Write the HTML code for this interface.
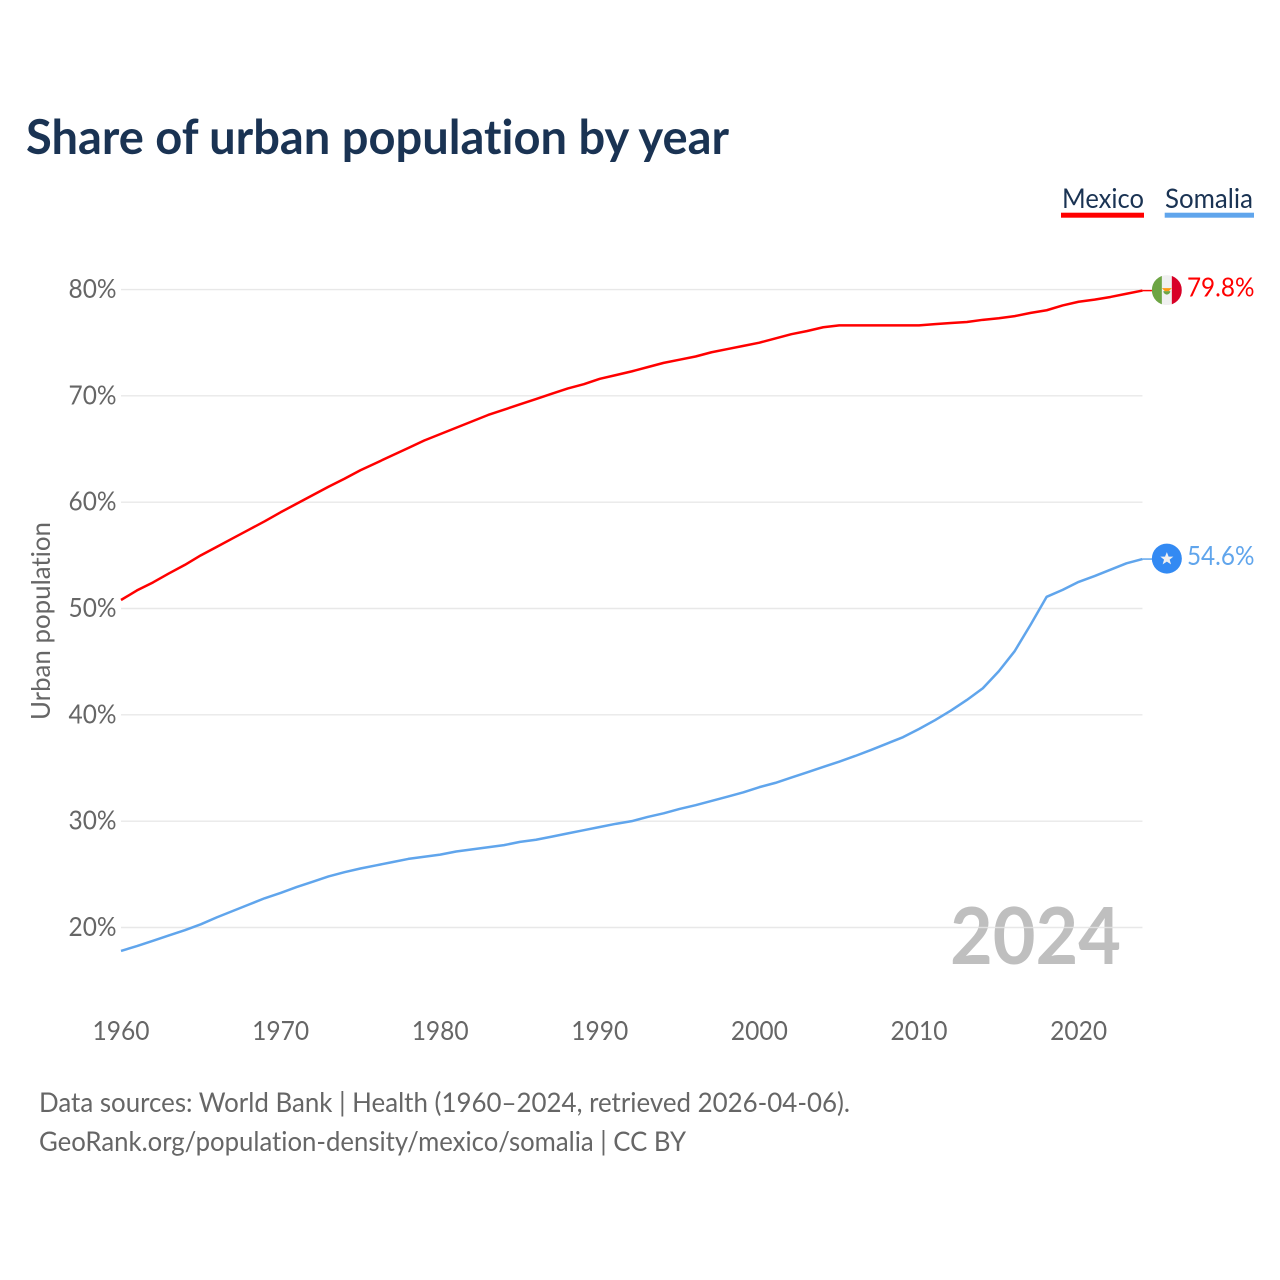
<!DOCTYPE html>
<html lang="en">
<head>
<meta charset="utf-8">
<title>Share of urban population by year</title>
<style>
html,body{margin:0;padding:0;background:#fff}
svg{display:block}
text{font-family:"Lato","Carlito","Liberation Sans",sans-serif;font-variant-ligatures:none;font-feature-settings:"liga" 0,"clig" 0}
</style>
</head>
<body>
<svg id="chart" xmlns="http://www.w3.org/2000/svg" width="1280" height="1280" viewBox="0 0 1280 1280">
  <rect width="1280" height="1280" fill="#fff"/>
  <text x="26" y="154" font-size="48" font-weight="700" fill="#1a3353" textLength="703" lengthAdjust="spacingAndGlyphs">Share of urban population by year</text>

  <g>
    <text x="1062" y="208" font-size="27.5" fill="#1a3353" textLength="82" lengthAdjust="spacingAndGlyphs">Mexico</text>
    <rect x="1061" y="212.7" width="83" height="5" fill="#ff0000"/>
  </g>
  <g>
    <text x="1165" y="208" font-size="27.5" fill="#1a3353" textLength="88" lengthAdjust="spacingAndGlyphs">Somalia</text>
    <rect x="1164.7" y="212.7" width="89.3" height="5" fill="#60a5ec"/>
  </g>

  <text x="950" y="964" font-size="79" font-weight="700" fill="#bfbfbf" textLength="171" lengthAdjust="spacingAndGlyphs">2024</text>

  <g id="grid"></g>
  <g id="yticks"></g>
  <g id="xticks"></g>

  <text transform="translate(50,621) rotate(-90)" text-anchor="middle" font-size="26" fill="#666" textLength="198" lengthAdjust="spacingAndGlyphs">Urban population</text>

  <g id="series"></g>

  <g id="flag-mexico">
    <clipPath id="clip-mx"><circle r="15"/></clipPath>
    <g clip-path="url(#clip-mx)">
      <rect x="-15" y="-15" width="30" height="30" fill="#f0f0f0"/>
      <rect x="-15" y="-15" width="10" height="30" fill="#6da544"/>
      <rect x="5" y="-15" width="10" height="30" fill="#d80027"/>
      <path d="M-3.5 1 a3.5 3.5 0 0 0 7 0z" fill="#6da544"/>
      <path d="M-5 -2 L5 -2 L2 1 L-2 1z" fill="#ff9811"/>
    </g>
  </g>
  <g id="flag-somalia">
    <circle r="15" fill="#338af3"/>
    <path d="M0 -6.5 L1.8 -2 L6.5 -2 L2.8 1 L4.2 5.8 L0 3 L-4.2 5.8 L-2.8 1 L-6.5 -2 L-1.8 -2z" fill="#f0f0f0"/>
  </g>

  <text x="39" y="1112" font-size="27.5" fill="#666" textLength="811" lengthAdjust="spacingAndGlyphs">Data sources: World Bank | Health (1960–2024, retrieved 2026-04-06).</text>
  <text x="39" y="1151" font-size="27.5" fill="#666" textLength="647" lengthAdjust="spacingAndGlyphs">GeoRank.org/population-density/mexico/somalia | CC BY</text>
</svg>
<script>
const startYear = 1960;
const endYear = 2024;
const yTickValues = [20, 30, 40, 50, 60, 70, 80];
const xTickYears = [1960, 1970, 1980, 1990, 2000, 2010, 2020];
const mexicoValues = [
  50.8, 51.7, 52.45, 53.3, 54.1, 55.0, 55.8, 56.6, 57.4, 58.2,
  59.05, 59.85, 60.65, 61.45, 62.2, 63.0, 63.7, 64.4, 65.1, 65.8,
  66.4, 67.0, 67.6, 68.2, 68.7, 69.2, 69.7, 70.2, 70.7, 71.1,
  71.6, 71.95, 72.3, 72.7, 73.1, 73.4, 73.7, 74.1, 74.4, 74.7,
  75.0, 75.4, 75.8, 76.1, 76.45, 76.63, 76.63, 76.63, 76.63, 76.63,
  76.63, 76.75, 76.85, 76.95, 77.15, 77.3, 77.5, 77.8, 78.05, 78.5,
  78.85, 79.05, 79.3, 79.6, 79.9
];
const somaliaValues = [
  17.8, 18.25, 18.75, 19.25, 19.75, 20.3, 20.95, 21.55, 22.15, 22.75,
  23.25, 23.8, 24.3, 24.8, 25.2, 25.55, 25.85, 26.15, 26.45, 26.65,
  26.85, 27.15, 27.35, 27.55, 27.75, 28.05, 28.25, 28.55, 28.85, 29.15,
  29.45, 29.75, 30.0, 30.4, 30.74, 31.15, 31.5, 31.9, 32.3, 32.71,
  33.2, 33.6, 34.1, 34.6, 35.1, 35.6, 36.13, 36.7, 37.3, 37.9,
  38.67, 39.5, 40.4, 41.4, 42.5, 44.1, 46.0, 48.5, 51.1, 51.75,
  52.5, 53.05, 53.65, 54.25, 54.65
];
const endLabels = ["79.8%", "54.6%"];

const NS = "http://www.w3.org/2000/svg";
function xScale(year) { return 121 + (year - 1960) * 15.96; }
function yScale(value) { return 927.5 - (value - 20) * 10.633; }
function make(tag, parent) {
  const el = document.createElementNS(NS, tag);
  parent.appendChild(el);
  return el;
}

const grid = document.getElementById("grid");
const yticks = document.getElementById("yticks");
const xticks = document.getElementById("xticks");
const seriesGroup = document.getElementById("series");

yTickValues.forEach(function (v) {
  const line = make("line", grid);
  
  
  line.setAttribute("x1", xScale(startYear));
  line.setAttribute("x2", xScale(endYear));
  line.setAttribute("y1", yScale(v));
  line.setAttribute("y2", yScale(v));
  line.setAttribute("stroke", "#e4e4e4");
  line.setAttribute("stroke-opacity", "0.85");
  line.setAttribute("stroke-width", "1.4");

  const t = make("text", yticks);
  
  
  t.setAttribute("x", 68.5);
  t.setAttribute("y", yScale(v) + 8.5);
  t.setAttribute("font-size", "26");
  t.setAttribute("fill", "#666");
  t.setAttribute("textLength", "48");
  t.setAttribute("lengthAdjust", "spacingAndGlyphs");
  t.textContent = v + "%";
});

xTickYears.forEach(function (y) {
  const t = make("text", xticks);
  
  
  t.setAttribute("x", xScale(y) - 28.5);
  t.setAttribute("y", 1040);
  t.setAttribute("font-size", "26");
  t.setAttribute("fill", "#666");
  t.setAttribute("textLength", "57");
  t.setAttribute("lengthAdjust", "spacingAndGlyphs");
  t.textContent = String(y);
});

function drawSeries(values, color, label, flagId, lineName, stubName, labelName) {
  const pts = values.map(function (v, i) {
    return xScale(startYear + i).toFixed(2) + "," + yScale(v).toFixed(2);
  });
  const path = make("polyline", seriesGroup);
  
  
  path.setAttribute("points", pts.join(" "));
  path.setAttribute("fill", "none");
  path.setAttribute("stroke", color);
  path.setAttribute("stroke-width", "2.5");
  path.setAttribute("stroke-linejoin", "round");

  const lastX = xScale(endYear);
  const lastY = yScale(values[values.length - 1]);

  const stub = make("line", seriesGroup);
  
  
  stub.setAttribute("x1", lastX);
  stub.setAttribute("x2", lastX + 10);
  stub.setAttribute("y1", lastY);
  stub.setAttribute("y2", lastY);
  stub.setAttribute("stroke", color);
  stub.setAttribute("stroke-width", "1.5");

  document.getElementById(flagId).setAttribute("transform", "translate(" + (lastX + 24.4) + "," + (lastY - 0.5) + ")");

  const t = make("text", seriesGroup);
  
  
  t.setAttribute("x", lastX + 44.5);
  t.setAttribute("y", lastY + 6);
  t.setAttribute("font-size", "26");
  t.setAttribute("fill", color);
  t.setAttribute("textLength", "67.5");
  t.setAttribute("lengthAdjust", "spacingAndGlyphs");
  t.textContent = label;
}

drawSeries(mexicoValues, "#ff0000", endLabels[0], "flag-mexico", "line-mexico", "end-connector-mexico", "end-value-mexico");
drawSeries(somaliaValues, "#60a5ec", endLabels[1], "flag-somalia", "line-somalia", "end-connector-somalia", "end-value-somalia");
</script>
</body>
</html>
